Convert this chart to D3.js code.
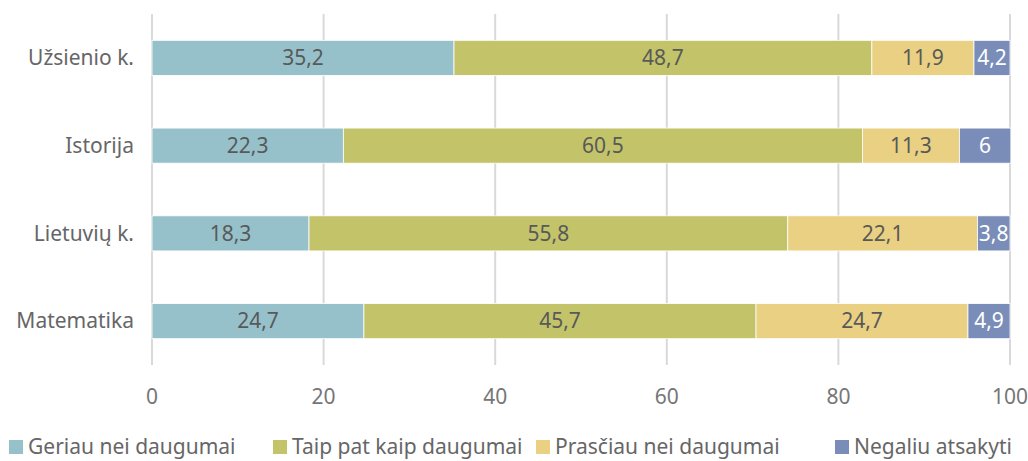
<!doctype html>
<html>
<head>
<meta charset="utf-8">
<script src="https://d3js.org/d3.v7.min.js"></script>
<style>
  body { margin: 0; background: #fff; }
  text { font-family: "Noto Sans", sans-serif; }
</style>
</head>
<body>
<div id="chart"></div>
<script>
// data
var subjects = ["Užsienio k.", "Istorija", "Lietuvių k.", "Matematika"];
var seriesNames = ["Geriau nei daugumai", "Taip pat kaip daugumai", "Prasčiau nei daugumai", "Negaliu atsakyti"];
var geriau = [35.2, 22.3, 18.3, 24.7];
var taipPat = [48.7, 60.5, 55.8, 45.7];
var prasciau = [11.9, 11.3, 22.1, 24.7];
var negaliu = [4.2, 6, 3.8, 4.9];
var xTicks = [0, 20, 40, 60, 80, 100];
var colors = ["#97c1ca", "#c3c36a", "#e9d082", "#7a8db8"];

var W = 1028, H = 461;
var margin = {top: 14, right: 18, bottom: 96, left: 152};
var fs = 21;

var rows = subjects.map(function(s, i) {
  return {subject: s, values: [geriau[i], taipPat[i], prasciau[i], negaliu[i]]};
});

var svg = d3.select("#chart").append("svg")
  .attr("width", W).attr("height", H);

var x = d3.scaleLinear().domain([0, 100]).range([margin.left, W - margin.right]);
var y = d3.scaleBand().domain(subjects).range([margin.top, H - margin.bottom]).paddingInner(0.6).paddingOuter(0.3);

// gridlines
svg.append("g").selectAll("line").data(xTicks).enter().append("line")
  .attr("x1", function(d) { return x(d); })
  .attr("x2", function(d) { return x(d); })
  .attr("y1", margin.top)
  .attr("y2", H - margin.bottom)
  .attr("stroke", "#d9d9d9")
  .attr("stroke-width", 2);

// tick labels
svg.append("g").selectAll("text").data(xTicks).enter().append("text")
  .attr("x", function(d) { return x(d); })
  .attr("y", 404)
  .attr("text-anchor", "middle")
  .attr("fill", "#767676")
  .attr("font-size", fs)
  .text(function(d) { return d; });

// category labels
svg.append("g").selectAll("text").data(subjects).enter().append("text")
  .attr("x", 134)
  .attr("y", function(d) { return y(d) + y.bandwidth() / 2; })
  .attr("dy", "0.35em")
  .attr("text-anchor", "end")
  .attr("fill", "#666")
  .attr("font-size", fs)
  .text(function(d) { return d; });

// stacked bars
var fmt = function(v) { return String(v).replace(".", ","); };
var rowG = svg.append("g").selectAll("g").data(rows).enter().append("g");
rowG.each(function(r) {
  var g = d3.select(this);
  var start = 0;
  var segs = r.values.map(function(v, k) {
    var s = {x0: start, x1: start + v, v: v, k: k};
    start += v;
    return s;
  });
  g.selectAll("rect").data(segs).enter().append("rect")
    .attr("x", function(d) { return x(d.x0); })
    .attr("width", function(d) { return x(d.x1) - x(d.x0); })
    .attr("y", y(r.subject))
    .attr("height", y.bandwidth())
    .attr("fill", function(d) { return colors[d.k]; })
    .attr("stroke", "#fff")
    .attr("stroke-width", 0.8);
  g.selectAll("text").data(segs).enter().append("text")
    .attr("x", function(d) { return (x(d.x0) + x(d.x1)) / 2; })
    .attr("y", y(r.subject) + y.bandwidth() / 2)
    .attr("dy", "0.35em")
    .attr("text-anchor", "middle")
    .attr("font-size", fs)
    .attr("fill", function(d) { return d.k === 3 ? "#fff" : "#595959"; })
    .text(function(d) { return fmt(d.v); });
});

// legend
var legendX = [9, 273, 536, 835];
var legend = svg.append("g").selectAll("g").data(seriesNames).enter().append("g")
  .attr("transform", function(d, i) { return "translate(" + legendX[i] + ",440)"; });
legend.append("rect")
  .attr("width", 14).attr("height", 14)
  .attr("fill", function(d, i) { return colors[i]; });
legend.append("text")
  .attr("x", 19).attr("y", 7).attr("dy", "0.35em")
  .attr("font-size", fs)
  .attr("fill", "#666")
  .text(function(d) { return d; });
</script>
</body>
</html>
